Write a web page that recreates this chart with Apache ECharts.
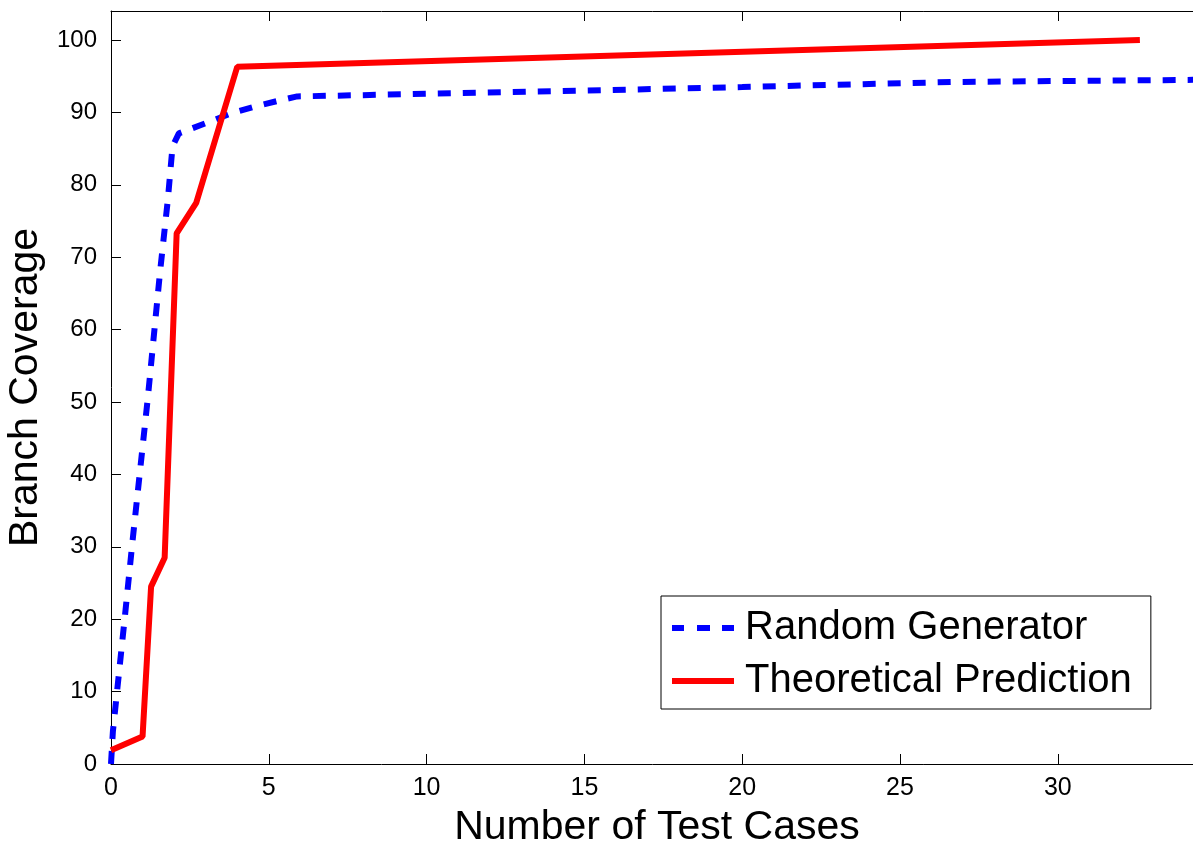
<!DOCTYPE html>
<html>
<head>
<meta charset="UTF-8">
<title>Branch Coverage</title>
<script src="https://cdn.jsdelivr.net/npm/echarts@6/dist/echarts.min.js"></script>
<style>
  html, body { margin: 0; padding: 0; background: #fff; }
  #main { width: 1193px; height: 841px; }
</style>
</head>
<body>
<div id="main"></div>
<script type="text/javascript">
// data: [test cases, branch coverage]
var randomGenerator = [
  [0, 0], [0.06, 4.5], [0.45, 20.8], [0.68, 30.7], [1.17, 50.7], [1.55, 67.8],
  [1.8, 77.9], [1.95, 85.3], [2.15, 87.1], [3.0, 88.5], [3.83, 89.9], [4.55, 90.8],
  [5.3, 91.6], [5.9, 92.2], [8.2, 92.4], [15, 93.0], [20, 93.5], [26.7, 94.2], [34.6, 94.5]
];
var theoreticalPrediction = [
  [0, 1.9], [1, 3.8], [1.27, 24.5], [1.7, 28.5], [2.08, 73.3], [2.7, 77.5], [4, 96.3], [32.6, 100]
];
var seriesNames = ['Random Generator', 'Theoretical Prediction'];

var font = "'Liberation Sans', Arial, Helvetica, sans-serif";
var myChart = echarts.init(document.getElementById('main'));

var option = {
  backgroundColor: '#fff',
  animation: false,
  grid: { left: 111, top: 11, bottom: 77, right: -10, outerBoundsMode: 'none', containLabel: false },
  legend: {
    data: [
      { name: seriesNames[0], icon: 'path://M0 0h12v6H0zM25 0h13v6H25zM50 0h12v6H50z' },
      { name: seriesNames[1], icon: 'rect' }
    ],
    orient: 'vertical',
    left: 661,
    top: 596,
    padding: [12, 19, 8, 11],
    itemGap: 13,
    itemWidth: 62,
    itemHeight: 6,
    borderColor: '#000',
    borderWidth: 1,
    backgroundColor: '#fff',
    textStyle: { fontFamily: font, fontSize: 40, color: '#000', lineHeight: 40, padding: [0, 0, 0, 6] }
  },
  xAxis: [{
    type: 'value',
    min: 0, max: 34.6, interval: 5,
    name: 'Number of Test Cases',
    nameLocation: 'middle',
    nameGap: 43,
    nameTextStyle: { fontFamily: font, fontSize: 41, color: '#000' },
    axisLine: { lineStyle: { color: '#000', width: 1 } },
    axisTick: { inside: true, length: 10, lineStyle: { color: '#000' } },
    axisLabel: {
      fontFamily: font, fontSize: 25, color: '#000', margin: 12,
      showMaxLabel: false,
      formatter: function (v) { return v % 5 === 0 ? String(v) : ''; }
    },
    splitLine: { show: false }
  }, {
    type: 'value',
    position: 'top',
    min: 0, max: 34.6, interval: 5,
    axisLine: { show: true, lineStyle: { color: '#000', width: 1 } },
    axisTick: { inside: true, length: 10, lineStyle: { color: '#000' } },
    axisLabel: { show: false },
    splitLine: { show: false }
  }],
  yAxis: {
    type: 'value',
    min: 0, max: 104, interval: 10,
    name: 'Branch Coverage',
    nameLocation: 'middle',
    nameGap: 50,
    nameTextStyle: { fontFamily: font, fontSize: 41, color: '#000' },
    axisLine: { show: true, lineStyle: { color: '#000', width: 1 } },
    axisTick: { show: true, inside: true, length: 10, lineStyle: { color: '#000' } },
    axisLabel: {
      fontFamily: font, fontSize: 24, color: '#000', margin: 14,
      showMaxLabel: false,
      formatter: function (v) { return v % 10 === 0 ? String(v) : ''; }
    },
    splitLine: { show: false }
  },
  series: [{
    name: seriesNames[0],
    type: 'line',
    data: randomGenerator,
    symbol: 'none',
    color: '#0000ff',
    lineStyle: { color: '#0000ff', width: 6, type: [13, 12], cap: 'butt' },
    z: 2
  }, {
    name: seriesNames[1],
    type: 'line',
    data: theoreticalPrediction,
    symbol: 'none',
    color: '#ff0000',
    lineStyle: { color: '#ff0000', width: 6 },
    z: 3
  }]
};

myChart.setOption(option);
</script>
</body>
</html>
